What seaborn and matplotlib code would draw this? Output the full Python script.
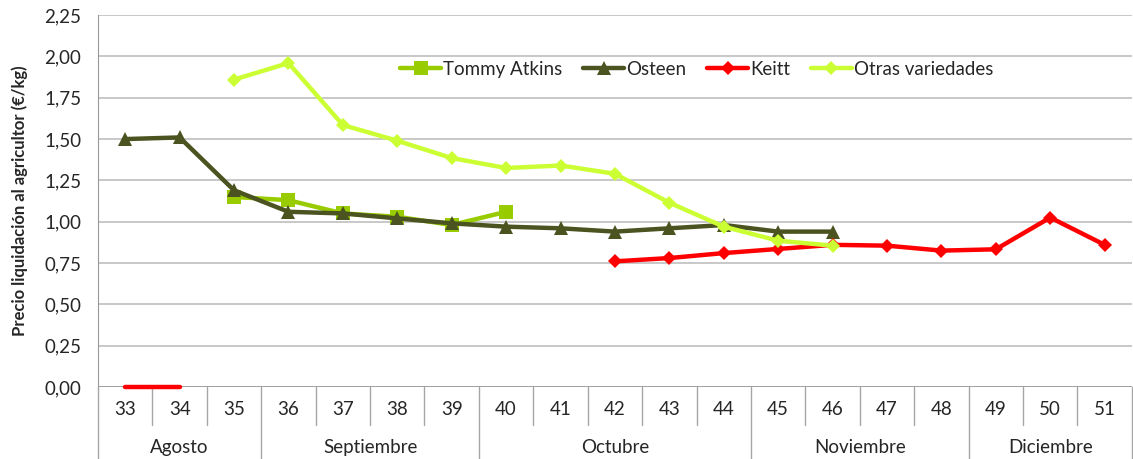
import numpy as np
import pandas as pd
import seaborn as sns
import matplotlib.pyplot as plt
import matplotlib.transforms as mtransforms

# Datos (semanas 33 a 51)
semanas = [33, 34, 35, 36, 37, 38, 39, 40, 41, 42, 43, 44, 45, 46, 47, 48, 49, 50, 51]
meses = ['Agosto', 'Septiembre', 'Octubre', 'Noviembre', 'Diciembre']
semanas_por_mes = [3, 4, 5, 4, 3]

nan = np.nan
tommy_atkins = [nan, nan, 1.15, 1.13, 1.05, 1.03, 0.98, 1.06, nan, nan, nan, nan, nan, nan, nan, nan, nan, nan, nan]
osteen = [1.50, 1.51, 1.19, 1.06, 1.05, 1.02, 0.99, 0.97, 0.96, 0.94, 0.96, 0.98, 0.94, 0.94, nan, nan, nan, nan, nan]
keitt = [0.00, 0.00, nan, nan, nan, nan, nan, nan, nan, 0.76, 0.78, 0.81, 0.835, 0.86, 0.855, 0.825, 0.833, 1.025, 0.86]
otras = [nan, nan, 1.86, 1.96, 1.585, 1.49, 1.385, 1.325, 1.34, 1.29, 1.115, 0.97, 0.885, 0.855, nan, nan, nan, nan, nan]

COLORES = {
    'Tommy Atkins': '#99CC00',
    'Osteen': '#4B5320',
    'Keitt': '#FF0000',
    'Otras variedades': '#CCFF33',
}
MARCADORES = {'Tommy Atkins': 's', 'Osteen': '^', 'Keitt': 'D', 'Otras variedades': 'D'}
TAMANOS = {'Tommy Atkins': 10.5, 'Osteen': 10.5, 'Keitt': 7.5, 'Otras variedades': 7.5}
FS = 13.5

sns.set_style('white')
plt.rcParams['font.family'] = ['Lato', 'DejaVu Sans']

df = pd.DataFrame({
    'pos': np.arange(len(semanas)),
    'Tommy Atkins': tommy_atkins,
    'Osteen': osteen,
    'Keitt': keitt,
    'Otras variedades': otras,
})
largo = df.melt(id_vars='pos', var_name='variedad', value_name='precio').dropna()

fig = plt.figure(figsize=(11.33, 4.59), dpi=100)
ax = fig.add_axes([0.0865, 0.157, 0.9125, 0.81])
ax.set_axisbelow(True)
ax.grid(axis='y', color='#BFBFBF', linewidth=1.2)

for nombre in ['Tommy Atkins', 'Osteen', 'Keitt', 'Otras variedades']:
    sub = largo[largo['variedad'] == nombre]
    if nombre == 'Keitt':
        # tramo a cero (sem. 33-34) sin marcadores, resto con rombos
        cero = sub[sub['pos'] < 5]
        sns.lineplot(data=cero, x='pos', y='precio', ax=ax, color=COLORES[nombre],
                     linewidth=3.2, solid_capstyle='round', legend=False, clip_on=False, zorder=4)
        sub = sub[sub['pos'] >= 5]
    sns.lineplot(data=sub, x='pos', y='precio', ax=ax, color=COLORES[nombre],
                 linewidth=3.2, marker=MARCADORES[nombre], markersize=TAMANOS[nombre],
                 markeredgewidth=0, label=nombre)

ax.set_xlim(-0.5, len(semanas) - 0.5)
ax.set_ylim(0, 2.25)
ax.set_yticks(np.arange(0, 2.26, 0.25))
ax.set_yticklabels([f'{v:.2f}'.replace('.', ',') for v in np.arange(0, 2.26, 0.25)], fontsize=FS)
ax.tick_params(axis='y', length=5, color='#999999', pad=7)

ax.set_xticks(range(len(semanas)))
ax.set_xticklabels([str(s) for s in semanas], fontsize=FS)
ax.tick_params(axis='x', length=0, pad=10)
ax.set_xlabel('')
ax.set_ylabel('Precio liquidación al agricultor (€/kg)', fontsize=12, fontweight='bold', labelpad=12)

for lado in ['top', 'right', 'bottom']:
    ax.spines[lado].set_visible(False)
ax.spines['left'].set_color('#999999')
ax.axhline(0, color='#999999', linewidth=1.2, zorder=1)

# Ejes de categorías: separadores de semanas y meses
trans = mtransforms.blended_transform_factory(ax.transData, ax.transAxes)
limites = np.cumsum([0] + semanas_por_mes) - 0.5
for i in range(len(semanas) + 1):
    x = i - 0.5
    fondo = -0.194 if x in limites else -0.102
    ax.plot([x, x], [0, fondo], transform=trans, color='#A6A6A6', linewidth=1, clip_on=False)
for mes, ini, fin in zip(meses, limites[:-1], limites[1:]):
    ax.text((ini + fin) / 2, -0.162, mes, transform=trans, ha='center', va='center', fontsize=FS)

ax.legend(loc='center left', bbox_to_anchor=(0.285, 0.855), ncol=4, frameon=False,
          fontsize=FS, handlelength=2.2, handletextpad=0.1, columnspacing=1.1,
          borderaxespad=0)

fig.savefig('out.png', dpi=100)
